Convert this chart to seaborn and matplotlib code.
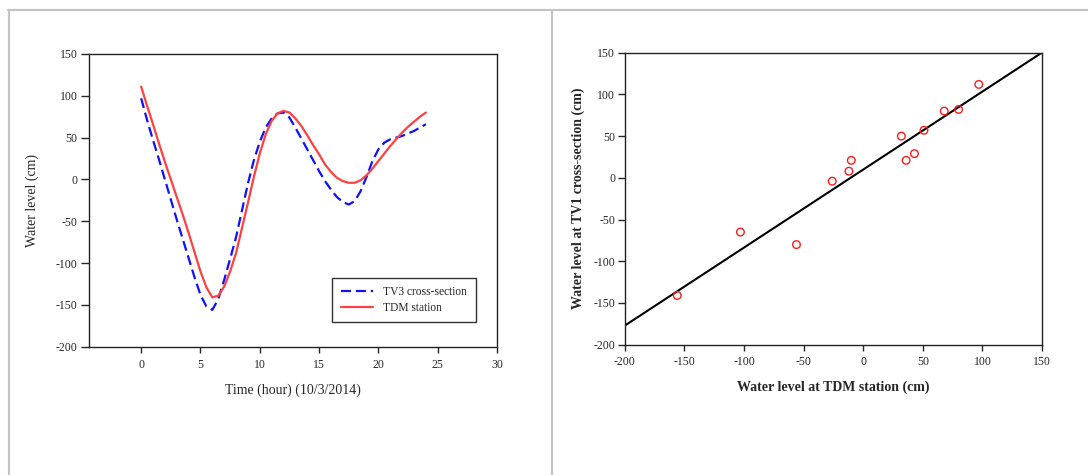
import numpy as np
import pandas as pd
import matplotlib
matplotlib.use("Agg")
import matplotlib.pyplot as plt
from matplotlib.lines import Line2D
import seaborn as sns

# ---- time series: water level (cm) every half hour on 10/3/2014 ----
hours = [0, 0.5, 1, 1.5, 2, 2.5, 3, 3.5, 4, 4.5, 5, 5.5, 6, 6.5, 7, 7.5, 8, 8.5,
         9, 9.5, 10, 10.5, 11, 11.5, 12, 12.5, 13, 13.5, 14, 14.5, 15, 15.5, 16,
         16.5, 17, 17.5, 18, 18.5, 19, 19.5, 20, 20.5, 21, 21.5, 22, 22.5, 23,
         23.5, 24]
tv3_level = [97, 71, 47, 24, 0, -24, -48, -71, -94, -117, -138, -152, -156, -143,
             -120, -95, -69, -37, -5, 23, 45, 62, 73, 79, 80, 74, 62, 49, 36, 23,
             10, -2, -12, -21, -27, -30, -26, -14, 3, 22, 36, 44, 48, 50, 52, 55,
             58, 62, 66]
tdm_level = [111, 88, 66, 43, 21, 0, -21, -42, -64, -87, -110, -129, -141, -139,
             -128, -110, -88, -58, -28, 3, 31, 54, 70, 79, 82, 80, 73, 64, 53, 41,
             30, 18, 9, 2, -2, -4, -4, -1, 5, 13, 22, 31, 40, 48, 56, 63, 69, 75,
             80]
series_names = ["TV3 cross-section", "TDM station"]

# ---- paired observations: TDM station vs TV1 cross-section (cm) ----
tdm_obs = [-156, -103, -56, -26, -12, -10, 32, 36, 43, 51, 68, 80, 97]
tv1_obs = [-141, -65, -80, -4, 8, 21, 50, 21, 29, 57, 80, 82, 112]

ts = pd.DataFrame({
    "hour": hours * 2,
    "level": tv3_level + tdm_level,
    "series": [series_names[0]] * len(hours) + [series_names[1]] * len(hours),
})
pairs = pd.DataFrame({"tdm": tdm_obs, "tv1": tv1_obs})

sns.set_theme(style="white")
plt.rcParams["font.family"] = ["Liberation Serif", "DejaVu Serif"]
plt.rcParams["axes.edgecolor"] = "#222222"
plt.rcParams["axes.linewidth"] = 1.0
plt.rcParams["axes.unicode_minus"] = False

W, H = 1088, 475
fig = plt.figure(figsize=(W / 100, H / 100), dpi=100)
fig.patch.set_facecolor("white")

# page frame lines
frame_kw = dict(color="#c4c4c4", lw=1.6, transform=fig.transFigure, zorder=0)
fig.add_artist(Line2D([8 / W, 1], [1 - 9.5 / H, 1 - 9.5 / H], **frame_kw))
fig.add_artist(Line2D([8.5 / W, 8.5 / W], [0, 1 - 9.5 / H], **frame_kw))
fig.add_artist(Line2D([551.5 / W, 551.5 / W], [0, 1 - 9.5 / H], **frame_kw))


def px_axes(x0, y0, x1, y1):
    return fig.add_axes([x0 / W, 1 - y1 / H, (x1 - x0) / W, (y1 - y0) / H])


tick_fs = 8.5
label_fs = 10

# ---------------- left: time series ----------------
ax1 = px_axes(88.5, 54, 497, 346.7)
sns.lineplot(data=ts, x="hour", y="level", hue="series", style="series",
             hue_order=series_names, style_order=series_names,
             palette={series_names[0]: "#1010ff", series_names[1]: "#ff4040"},
             dashes={series_names[0]: (4.5, 2.2), series_names[1]: ""},
             linewidth=1.6, ax=ax1, legend=True)
ax1.set_xlim(-4.44, 30)
ax1.set_ylim(-200, 150)
ax1.set_xticks(np.arange(0, 31, 5))
ax1.set_yticks(np.arange(-200, 151, 50))
ax1.tick_params(axis="y", direction="out", length=6, width=1, labelsize=tick_fs,
                pad=2, left=True)
ax1.tick_params(axis="x", direction="out", length=4, width=1, labelsize=tick_fs,
                pad=5, bottom=True)
ax1.set_xlabel("Time (hour) (10/3/2014)", fontsize=label_fs, labelpad=9)
ax1.set_ylabel("Water level (cm)", fontsize=label_fs, labelpad=12)
leg = ax1.legend(loc="upper left", bbox_to_anchor=(0.596, 0.236), fontsize=8.3,
                 frameon=True, fancybox=False, shadow=False, borderaxespad=0,
                 handlelength=2.8, handletextpad=0.9, borderpad=0.75,
                 labelspacing=0.3, title=None)
leg.get_frame().set_edgecolor("black")
leg.get_frame().set_linewidth(1.0)
for s in ax1.spines.values():
    s.set_visible(True)

# ---------------- right: scatter with regression ----------------
ax2 = px_axes(624.8, 52.7, 1042, 344.7)
ax2.set_xlim(-200, 150)
ax2.set_ylim(-200, 150)
sns.regplot(data=pairs, x="tdm", y="tv1", scatter=False, ci=None,
            truncate=False, color="black", line_kws={"linewidth": 1.5}, ax=ax2)
sns.scatterplot(data=pairs, x="tdm", y="tv1", marker="o", s=30,
                facecolor="none", edgecolor="#ff1a1a", linewidth=1.0,
                ax=ax2, zorder=3)
ax2.set_xlim(-200, 150)
ax2.set_ylim(-200, 150)
ax2.set_xticks(np.arange(-200, 151, 50))
ax2.set_yticks(np.arange(-200, 151, 50))
ax2.tick_params(axis="y", direction="out", length=5, width=1, labelsize=tick_fs,
                pad=2, left=True)
ax2.tick_params(axis="x", direction="out", length=4, width=1, labelsize=tick_fs,
                pad=4, bottom=True)
ax2.set_xlabel("Water level at TDM station (cm)", fontsize=label_fs,
               fontweight="bold", labelpad=9)
ax2.set_ylabel("Water level at TV1 cross-section (cm)", fontsize=label_fs,
               fontweight="bold", labelpad=6)
for s in ax2.spines.values():
    s.set_visible(True)

fig.savefig("out.png", dpi=100, facecolor="white")
